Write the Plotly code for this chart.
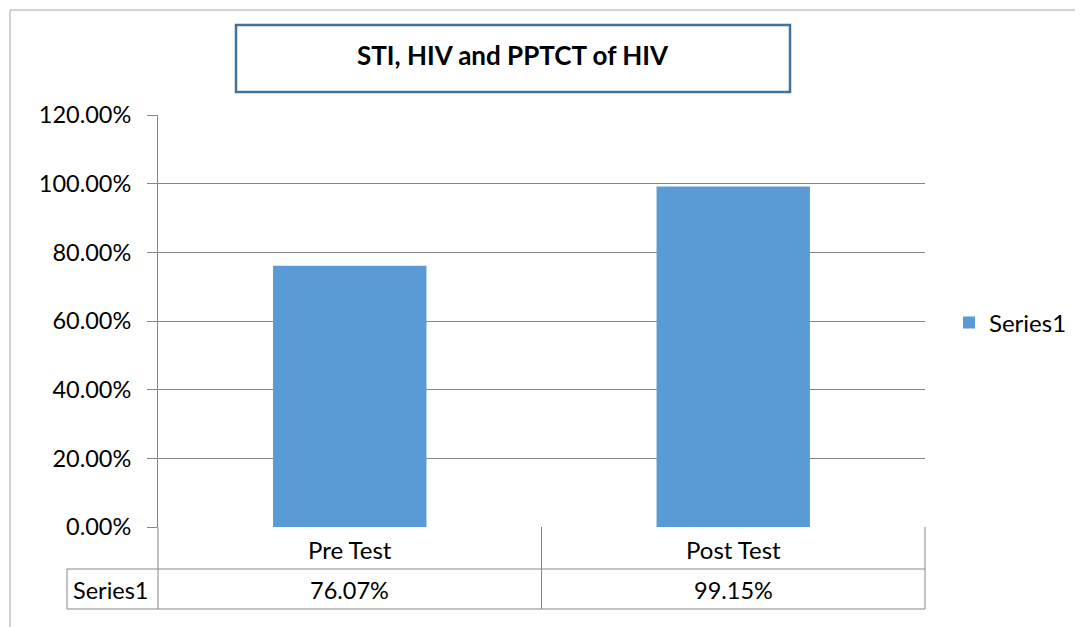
import plotly.graph_objects as go

categories = ["Pre Test", "Post Test"]
values = [76.07, 99.15]
series_name = "Series1"
title_text = "STI, HIV and PPTCT of HIV"
y_ticks = [0, 20, 40, 60, 80, 100, 120]

W, H = 1083, 627
OFF = 8  # page body margin compensation
L, R, T, B = 158, 925, 115, 527
pw, ph = R - L, B - T

def px(xp):
    return (xp - L) / pw

def py(yp):
    return (B - yp) / ph

FONT = "Lato"
FS = 23.5
GRID = "#868686"
BAR = "#5B9BD5"

fig = go.Figure()
fig.add_trace(go.Bar(x=categories, y=values, name=series_name,
                     marker=dict(color=BAR, line=dict(width=0))))

shapes = []
def line(x0, y0, x1, y1, color=GRID, w=1):
    shapes.append(dict(type="line", xref="paper", yref="paper",
                       x0=px(x0), y0=py(y0), x1=px(x1), y1=py(y1),
                       line=dict(color=color, width=w), layer="above"))

# outer chart border
shapes.append(dict(type="rect", xref="paper", yref="paper",
                   x0=px(10), y0=py(660), x1=px(1120), y1=py(10),
                   line=dict(color="#A6A6A6", width=1), layer="below"))
# title box
shapes.append(dict(type="rect", xref="paper", yref="paper",
                   x0=px(236), y0=py(92), x1=px(790), y1=py(25),
                   line=dict(color="#41719C", width=2.5), layer="above"))
# data table lines
line(L, 527, L, 609)
line(541.5, 527, 541.5, 609)
line(R, 527, R, 609)
line(67, 569, R, 569)
line(67, 609, R, 609)
line(67, 569, 67, 609)

annotations = [
    dict(text="<b>" + title_text + "</b>", xref="paper", yref="paper",
         x=px(513), y=py(55), showarrow=False, xanchor="center", yanchor="middle",
         font=dict(family=FONT, size=26, color="#000000")),
    dict(text=series_name, xref="paper", yref="paper", x=px(111), y=py(590),
         showarrow=False, xanchor="center", yanchor="middle",
         font=dict(family=FONT, size=FS, color="#000000")),
]
for c, v in zip(categories, values):
    annotations.append(dict(text=c, xref="x", yref="paper", x=c, y=py(549),
                            showarrow=False, xanchor="center", yanchor="middle",
                            font=dict(family=FONT, size=24, color="#000000")))
    annotations.append(dict(text=f"{v:.2f}%", xref="x", yref="paper", x=c, y=py(590),
                            showarrow=False, xanchor="center", yanchor="middle",
                            font=dict(family=FONT, size=FS, color="#000000")))

fig.update_layout(
    width=W, height=H,
    margin=dict(l=L - OFF, r=W - R + OFF, t=T - OFF, b=H - B + OFF, pad=0),
    paper_bgcolor="white", plot_bgcolor="white",
    bargap=0.6,
    font=dict(family=FONT, size=FS, color="#000000"),
    showlegend=True,
    legend=dict(x=px(949), y=py(323), xanchor="left", yanchor="middle",
                font=dict(family=FONT, size=24, color="#000000"),
                bgcolor="rgba(0,0,0,0)"),
    xaxis=dict(showticklabels=False, showgrid=False, zeroline=False,
               showline=False, ticks="", range=[-0.5, 1.5]),
    yaxis=dict(range=[0, 120], tickvals=y_ticks,
               ticktext=[f"{t:.2f}%" for t in y_ticks],
               showgrid=True, gridcolor=GRID, gridwidth=1,
               zeroline=False, showline=True, linecolor=GRID, linewidth=1,
               ticks="outside", ticklen=10, tickcolor=GRID,
               ticklabelstandoff=11,
               tickfont=dict(family=FONT, size=FS, color="#000000")),
    shapes=shapes, annotations=annotations,
)

fig.write_html("out.html")
